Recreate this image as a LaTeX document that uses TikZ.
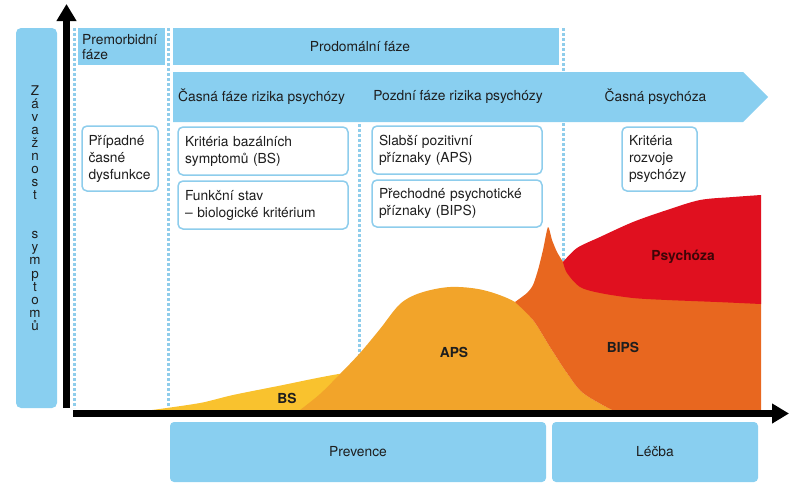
\documentclass[tikz,border=0pt]{standalone}
\usepackage{fontspec}
\setmainfont{TeX Gyre Heros}
\usetikzlibrary{arrows.meta}
\definecolor{lblue}{HTML}{89CFF0}
\definecolor{bord}{HTML}{8ECDEC}
\definecolor{dashc}{HTML}{8FCDEB}
\definecolor{cBS}{HTML}{F9C22E}
\definecolor{cAPS}{HTML}{F2A42A}
\definecolor{cBIPS}{HTML}{E8671F}
\definecolor{cPSY}{HTML}{E0101F}
\definecolor{txt}{HTML}{1E1E1E}
\definecolor{psytxt}{HTML}{3E0508}
\begin{document}
\begin{tikzpicture}[x=1pt,y=-1pt,
  every node/.style={text=txt, inner sep=0pt, font=\fontsize{13.8}{17}\selectfont},
  bandbox/.style={fill=lblue, draw=none},
  infobox/.style={draw=bord, line width=1.5pt, fill=white, rounded corners=5pt, inner xsep=7pt, inner ysep=0pt, align=left},
  dashline/.style={draw=dashc, line width=3pt, dash pattern=on 3pt off 2pt},
  axisarrow/.style={line width=7pt, -{Triangle[width=19pt,length=17pt]}},
  arealabel/.style={font=\fontsize{13.8}{17}\selectfont\bfseries}]
\useasboundingbox (0,0) rectangle (811,491);

% dashed phase separators
\draw[dashline] (74,28) -- (74,408);
\draw[dashline] (168,28) -- (168,410);
\draw[dashline] (359,124) -- (359,400);
\draw[dashline] (563,28) -- (563,268);

% left axis label box
\node[bandbox, rounded corners=5pt, minimum width=41pt, minimum height=380pt] (zbox) at (36.5,218) {};
\node[align=center, font=\fontsize{13.4}{13.05}\selectfont] (ztext) at (35,208) {Z\\á\\v\\a\\ž\\n\\o\\s\\t\\[26.1pt]s\\y\\m\\p\\t\\o\\m\\ů};

% top bands
\node[bandbox, minimum width=87pt, minimum height=37pt, anchor=north west] (premorbbox) at (78,28) {};
\node[anchor=west, align=left, font=\fontsize{13.8}{15}\selectfont] (premorbtxt) at (82,47.5) {Premorbidní\\fáze};
\node[bandbox, minimum width=386pt, minimum height=37pt, anchor=north west] (prodbox) at (173,28) {};
\node (prodtxt) at (360,46.5) {Prodomální fáze};

\fill[lblue] (173,72) -- (743,72) -- (768,97) -- (743,122) -- (173,122) -- cycle;
\node[anchor=west] (casna) at (178,97) {Časná fáze rizika psychózy};
\node (pozdni) at (458,97) {Pozdní fáze rizika psychózy};
\node (psychoza) at (655.5,97) {Časná psychóza};

% criteria boxes
\node[infobox, text width=63pt, inner xsep=6.5pt, minimum height=65pt] (pripadne) at (120,158.5) {Případné\\časné\\dysfunkce};
\node[infobox, text width=156pt, minimum height=48pt] (kbs) at (263,151) {Kritéria bazálních\\symptomů (BS)};
\node[infobox, text width=156pt, minimum height=48pt] (fs) at (263,205) {Funkční stav\\– biologické kritérium};
\node[infobox, text width=156pt, minimum height=48pt] (apsbox) at (457,150) {Slabší pozitivní\\příznaky (APS)};
\node[infobox, text width=156pt, minimum height=47pt] (bipsbox) at (457,203.5) {Přechodné psychotické\\příznaky (BIPS)};
\node[infobox, text width=61pt, minimum height=64pt] (krp) at (659.5,159) {Kritéria\\rozvoje\\psychózy};

% symptom areas
\fill[cBS] plot[smooth, tension=0.5] coordinates {(152,410) (200,403) (233,395) (283,385) (317,378) (345,373) (362,372)} -- (362,410) -- cycle;
\fill[cAPS] plot[smooth, tension=0.55] coordinates {(300,410) (320,394) (340,374) (360,353) (380,329) (400,304) (420,293) (450,287) (483,290) (515,302) (533,320) (550,347) (567,373) (583,393) (612,410)} -- cycle;
\fill[cBIPS] plot[smooth, tension=0.55] coordinates {(612,410) (583,393) (567,373) (550,347) (533,320) (515,302)}
  -- plot[smooth, tension=0.4] coordinates {(515,302) (527,293) (533,285) (538,270) (543,250) (548,227) (552,240) (557,252) (563,262)}
  -- (600,250) -- (761,250) -- (761,410) -- cycle;
\fill[cPSY] plot[smooth, tension=0.5] coordinates {(563,262) (577,248) (600,237) (633,222) (667,210) (700,200) (733,197) (761,195)}
  -- (761,304) -- plot[smooth, tension=0.5] coordinates {(761,304) (717,302) (667,300) (633,298) (600,293) (580,287) (567,273) (563,262)} -- cycle;

\node[arealabel] (lbs) at (287,398) {BS};
\node[arealabel] (laps) at (454,352) {APS};
\node[arealabel] (lbips) at (623,347) {BIPS};
\node[arealabel, text=psytxt] (lpsy) at (683,257) {Psychóza};

% axes
\coordinate (yb) at (66.5,408);
\coordinate (yt) at (66.5,4);
\draw[axisarrow] (yb) -- (yt);
\coordinate (xl) at (73,413.5);
\coordinate (xr) at (789,413.5);
\draw[axisarrow] (xl) -- (xr);

% bottom bands
\node[bandbox, rounded corners=4pt, minimum width=376pt, minimum height=60pt] (prevence) at (358,452) {Prevence};
\node[bandbox, rounded corners=4pt, minimum width=206pt, minimum height=60pt] (lecba) at (655,452) {Léčba};
\end{tikzpicture}
\end{document}
